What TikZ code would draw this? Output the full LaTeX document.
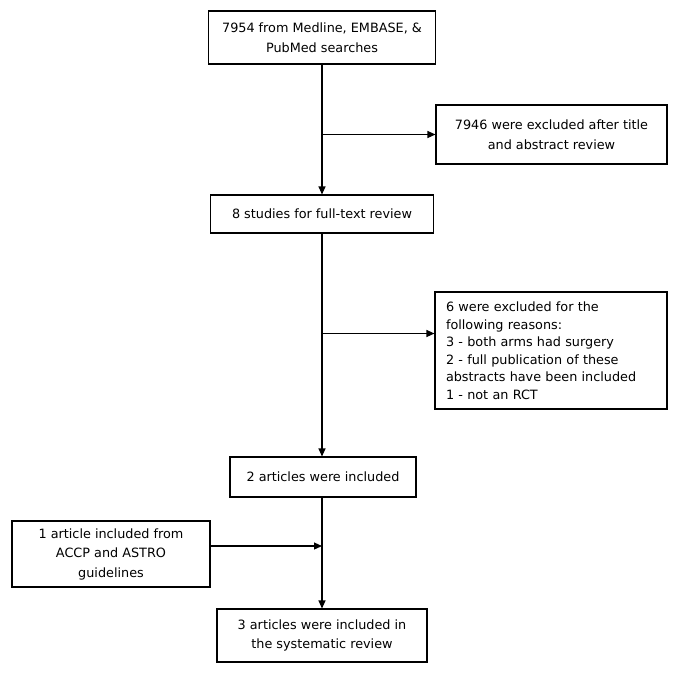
\documentclass[tikz,border=0pt]{standalone}
\usepackage{fontspec}
\setmainfont{DejaVu Sans}
\usetikzlibrary{arrows.meta, positioning}

\begin{document}
\begin{tikzpicture}[
		x=1pt, y=-1pt,
		>={Triangle[length=8pt,width=7pt]},
		every node/.style={font=\fontsize{12.8}{19.5}\selectfont},
		box/.style={draw, rectangle, line width=1.1pt, align=center, inner sep=0pt},
		flow/.style={line width=1.1pt}
		]
		\useasboundingbox (0,0) rectangle (679,673);
		
		% --- Main column ---
		\node[box, minimum width=227pt, minimum height=53pt] (search) at (322,37.5) {7954 from Medline, EMBASE, \&\\PubMed searches};
		\node[box, minimum width=223pt, minimum height=38pt] (fulltext) at (322,214) {8 studies for full-text review};
		\node[box, minimum width=186pt, minimum height=40pt] (included) at (323,477) {2 articles were included};
		\node[box, minimum width=210pt, minimum height=53pt] (final) at (322,635.5) {3 articles were included in\\the systematic review};
		
		% --- Side boxes ---
		\node[box, minimum width=231pt, minimum height=59pt] (excla) at (551.5,134.5) {7946 were excluded after title\\and abstract review};
		\node[box, minimum width=232pt, minimum height=117pt, text width=210pt, align=left, font=\fontsize{12.8}{17.5}\selectfont] (exclb) at (551,350.5) {6 were excluded for the\\following reasons:\\3 - both arms had surgery\\2 - full publication of these\\abstracts have been included\\1 - not an RCT};
		\node[box, minimum width=198pt, minimum height=66pt] (guide) at (111,554) {1 article included from\\ACCP and ASTRO\\guidelines};
		
		% --- Forward edges ---
		\draw[flow, ->] (search.south) -- (search.south |- fulltext.north);
		\draw[flow, ->] (fulltext.south) -- (fulltext.south |- included.north);
		\draw[flow, ->] (fulltext.south |- included.south) -- (fulltext.south |- final.north);
		
		% --- Exclusion branches ---
		\draw[flow, ->] (search.south |- excla.west) -- (excla.west);
		\coordinate (cutb) at ([yshift=17pt]exclb.west);
		\draw[flow, ->] (cutb -| fulltext.south) -- (cutb);
		
		% --- Guideline article joins the column ---
		\coordinate (gd) at ([yshift=8pt]guide.east);
		\draw[flow, ->] (gd) -- (gd -| fulltext.south);
	\end{tikzpicture}
\end{document}
